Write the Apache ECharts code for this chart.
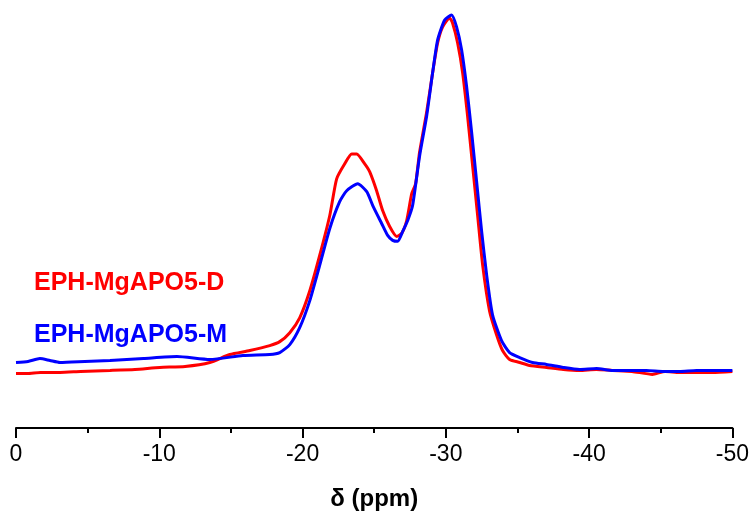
<!DOCTYPE html>
<html>
<head>
<meta charset="utf-8">
<script src="https://cdn.jsdelivr.net/npm/echarts@6/dist/echarts.min.js"></script>
<style>html,body{margin:0;padding:0;background:#fff}#c{width:752px;height:516px}</style>
</head>
<body>
<div id="c"></div>
<script>
// Chemical shift (ppm) and intensity (arbitrary units)
const redShift = [0, -0.8, -1.7, -3.07, -4.5, -6.56, -8.3, -10.04, -11.8, -13.53, -14.92, -16.32, -17.71, -18.41, -19.11, -19.8, -20.5, -21.2, -21.9, -22.38, -22.94, -23.43, -23.78, -24.34, -24.69, -25.17, -25.59, -26.08, -26.57, -26.92, -27.27, -27.62, -27.89, -28.17, -28.66, -29.08, -29.43, -29.78, -30.26, -30.47, -30.82, -31.17, -31.52, -31.87, -32.22, -32.57, -33.05, -33.54, -33.96, -34.45, -35.15, -35.84, -37.03, -38.2, -39.33, -40.5, -41.63, -43.0, -44.42, -45.3, -46.3, -47.5, -48.61, -50];
const redIntensity = [55, 55, 56, 56, 57, 58, 59, 61, 62, 66, 74, 78, 83, 87, 96, 111, 138, 174, 214, 251, 266, 276, 276, 266, 258, 239, 219, 203, 193, 196, 209, 236, 246, 278, 318, 358, 388, 404, 413, 408, 388, 358, 314, 264, 214, 164, 118, 94, 78, 69, 66, 63, 61, 59, 58, 59, 58, 57, 54, 57, 56, 56, 56, 57];
const blueShift = [0, -0.84, -1.67, -2.37, -3.07, -4.8, -6.56, -8.9, -11.23, -13.53, -15.83, -17.71, -18.41, -19.11, -19.8, -20.5, -21.2, -21.9, -22.59, -23.08, -23.85, -24.48, -24.9, -25.52, -25.94, -26.29, -26.64, -26.99, -27.34, -27.68, -28.17, -28.66, -29.08, -29.43, -29.92, -30.4, -30.75, -31.1, -31.45, -31.8, -32.15, -32.5, -32.85, -33.26, -33.89, -34.45, -35.15, -36.05, -37.03, -38.2, -39.33, -40.52, -41.63, -43.0, -44.0, -45.2, -46.3, -47.5, -48.61, -50];
const blueIntensity = [66, 67, 70, 68, 66, 67, 68, 70, 72, 69, 73, 74, 76, 84, 101, 128, 164, 201, 228, 239, 246, 238, 224, 206, 194, 189, 188, 198, 209, 224, 274, 314, 358, 391, 411, 416, 404, 381, 344, 298, 248, 198, 154, 114, 88, 76, 71, 66, 64, 61, 59, 60, 58, 58, 58, 57, 57, 58, 58, 58];
const xTicks = [0, -10, -20, -30, -40, -50];
const seriesNames = ['EPH-MgAPO5-D', 'EPH-MgAPO5-M'];

const zip = (a, b) => a.map((v, i) => [v, b[i]]);
const chart = echarts.init(document.getElementById('c'), null, {renderer: 'canvas'});
chart.setOption({
  animation: false,
  backgroundColor: '#ffffff',
  grid: {left: 16, right: 19, top: 11, bottom: 85, containLabel: false},
  xAxis: {
    type: 'value', inverse: true, min: -50, max: 0, interval: 10,
    name: 'δ (ppm)', nameLocation: 'middle', nameGap: 59,
    nameTextStyle: {fontFamily: 'Liberation Sans, Arial', fontWeight: 'bold', fontSize: 24, color: '#000'},
    axisLine: {show: true, onZero: false, lineStyle: {color: '#000', width: 2}},
    axisTick: {show: true, length: 10, lineStyle: {color: '#000', width: 2}},
    minorTick: {show: true, splitNumber: 2, length: 5, lineStyle: {color: '#000', width: 2}},
    axisLabel: {margin: 15, fontFamily: 'Liberation Sans, Arial', fontSize: 23, color: '#000',
      formatter: v => xTicks.includes(v) ? String(v) : ''},
    splitLine: {show: false}
  },
  yAxis: {type: 'value', min: 0, max: 420, show: false, splitLine: {show: false}},
  series: [
    {name: seriesNames[0], type: 'line', data: zip(redShift, redIntensity), showSymbol: false,
     lineStyle: {color: '#ff0000', width: 3}, itemStyle: {color: '#ff0000'}, smooth: 0.2, z: 2},
    {name: seriesNames[1], type: 'line', data: zip(blueShift, blueIntensity), showSymbol: false,
     lineStyle: {color: '#0000ff', width: 3}, itemStyle: {color: '#0000ff'}, smooth: 0.2, z: 3}
  ],
  graphic: [
    {type: 'text', left: 34, top: 271, style: {text: seriesNames[0], fill: '#ff0000',
      font: 'bold 25px "Liberation Sans", Arial'}},
    {type: 'text', left: 34, top: 323, style: {text: seriesNames[1], fill: '#0000ff',
      font: 'bold 25px "Liberation Sans", Arial'}}
  ]
});
</script>
</body>
</html>
